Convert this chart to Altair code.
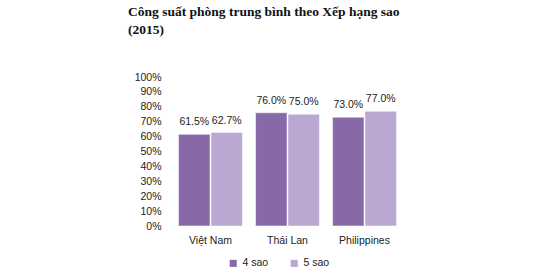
import altair as alt
import pandas as pd

countries = ["Việt Nam", "Thái Lan", "Philippines"]
series = ["4 sao", "5 sao"]
vals_4 = [0.615, 0.760, 0.730]
vals_5 = [0.627, 0.750, 0.770]
y_ticks = [0.0, 0.1, 0.2, 0.3, 0.4, 0.5, 0.6, 0.7, 0.8, 0.9, 1.0]
colors = ["#8869A8", "#BBA8D2"]

rows = []
for c, a, b in zip(countries, vals_4, vals_5):
    rows.append({"country": c, "series": series[0], "value": a})
    rows.append({"country": c, "series": series[1], "value": b})
df = pd.DataFrame(rows)

FONT = "Liberation Sans"
FS = 10.5

yscale = alt.Scale(domain=[0, 1])
yaxis = alt.Axis(values=y_ticks, format=".0%", domain=False, ticks=False, grid=False,
                 labelPadding=11, labelOverlap=False, labelFlush=False,
                 labelFont=FONT, labelFontSize=FS, labelColor="#222222")

base = alt.Chart(df).encode(
    x=alt.X("country:N", sort=countries, title=None,
            scale=alt.Scale(paddingInner=0.17, paddingOuter=0.085),
            axis=alt.Axis(labelAngle=0, domain=False, ticks=False, labelPadding=9,
                          labelFont=FONT, labelFontSize=FS, labelColor="#222222")),
    xOffset=alt.XOffset("series:N", sort=series, scale=alt.Scale(paddingInner=0.03)),
    y=alt.Y("value:Q", title=None, scale=yscale, axis=yaxis),
)

bars = base.mark_bar(stroke="white", strokeWidth=0.5).encode(
    color=alt.Color("series:N", sort=series,
                    scale=alt.Scale(domain=series, range=colors),
                    legend=alt.Legend(title=None, orient="none", direction="horizontal",
                                      legendX=56, legendY=181, symbolType="square",
                                      symbolSize=50, labelFont=FONT, labelFontSize=FS,
                                      labelColor="#222222", columnPadding=20,
                                      symbolStrokeWidth=0)),
)

labels = base.mark_text(dy=-12, font=FONT, fontSize=FS, color="#222222").encode(
    text=alt.Text("value:Q", format=".1%"),
)

chart = alt.layer(bars, labels).properties(
    width=231, height=149,
    background="white",
    autosize=alt.AutoSizeParams(type="none"),
    padding={"left": 172, "top": 77, "right": 145, "bottom": 49},
    title=alt.TitleParams(["Công suất phòng trung bình theo Xếp hạng sao", "(2015)"],
                          anchor="start", frame="group", dx=-44, offset=36, limit=600,
                          font="Liberation Serif", fontSize=13.5, fontWeight="bold",
                          color="#111111", lineHeight=18),
).configure_view(stroke=None).configure_axis(grid=False)

chart.save("out.html", embed_options={"renderer": "svg", "actions": False})
